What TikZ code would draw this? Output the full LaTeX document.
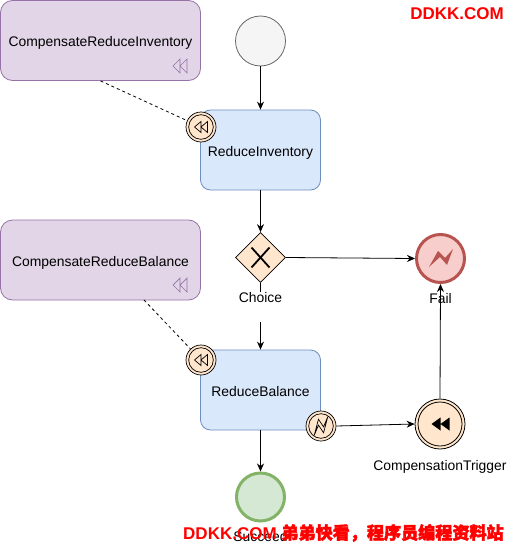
\documentclass[tikz,border=0pt]{standalone}
\usepackage{fontspec}
\setmainfont{Liberation Sans}
\newfontfamily\cjk{Noto Sans CJK SC}[FakeBold=2.5]
\usetikzlibrary{arrows.meta,calc,shapes.geometric}
\definecolor{taskfill}{HTML}{DAE8FC}
\definecolor{taskdraw}{HTML}{6C8EBF}
\definecolor{purfill}{HTML}{E1D5E7}
\definecolor{purdraw}{HTML}{9673A6}
\definecolor{peach}{HTML}{FFE6CC}
\definecolor{failfill}{HTML}{F8CECC}
\definecolor{faildraw}{HTML}{B85450}
\definecolor{okfill}{HTML}{D5E8D4}
\definecolor{okdraw}{HTML}{82B366}
\definecolor{startfill}{HTML}{F5F5F5}
\definecolor{startdraw}{HTML}{666666}
\definecolor{wm}{HTML}{FF0000}
\tikzset{
  task/.style={draw=taskdraw, fill=taskfill, rounded corners=10pt, minimum width=120pt, minimum height=80pt, inner sep=0pt, line width=0.8pt, text height=13pt, text depth=0pt},
  compbox/.style={draw=purdraw, fill=purfill, rounded corners=12pt, minimum width=200pt, minimum height=80pt, inner sep=0pt, line width=0.8pt, text height=13pt, text depth=0pt},
  bevent/.style={circle, draw=black, fill=peach, minimum size=30pt, inner sep=0pt, line width=0.7pt,
    path picture={\draw[line width=0.7pt] (path picture bounding box.center) circle (12.3pt);}},
  lbl/.style={inner sep=1pt},
  flow/.style={line width=0.8pt, -{Stealth[length=8pt,width=7pt]}},
  assoc/.style={line width=0.8pt, dash pattern=on 3pt off 3pt},
  rewind/.pic={\path[pic actions] (-1,0) -- (0,-1) -- (0,1) -- cycle (0,0) -- (1,-1) -- (1,1) -- cycle;},
  bolt/.pic={\path[pic actions] (-12,9) -- (-3,-7) -- (4,0) -- (12,-9) -- (6,7) -- (-1,-1) -- cycle;},
  boltv/.pic={\path[pic actions] (-8,11) -- (-3,-8) -- (3,1) -- (8,-11) -- (3,8) -- (-3,-1) -- cycle;}
}
\begin{document}
\begin{tikzpicture}[x=1pt,y=-1pt, font=\fontsize{13.9}{16}\selectfont]
\useasboundingbox (0,0) rectangle (508,543);
% compensation boxes
\node[compbox] (cri) at (100.5,40.5) {CompensateReduceInventory};
\pic[draw=purdraw, line width=0.7pt, xscale=7, yscale=7] at (180,66) {rewind};
\node[compbox] (crb) at (100.5,260) {CompensateReduceBalance};
\pic[draw=purdraw, line width=0.7pt, xscale=7, yscale=7] at (180,285) {rewind};
% start
\node[circle, draw=startdraw, fill=startfill, minimum size=50pt, inner sep=0pt, line width=0.8pt] (start) at (260.5,41) {};
% tasks
\node[task] (ri) at (260.5,150) {ReduceInventory};
\node[task] (rb) at (260.5,390) {ReduceBalance};
% gateway
\node[diamond, draw=black, fill=peach, minimum width=50pt, minimum height=50pt, inner sep=0pt, line width=0.8pt] (gw) at (260.5,257.5) {};
\draw[line width=1.8pt] ($(gw.center)+(-9,-10)$) -- ($(gw.center)+(9,10)$) ($(gw.center)+(9,-10)$) -- ($(gw.center)+(-9,10)$);
\node[lbl, anchor=north] (choice) at (260.5,291.5) {Choice};
\coordinate (brk) at (260.5,322);
% fail
\node[circle, draw=faildraw, fill=failfill, minimum size=48pt, inner sep=0pt, line width=3pt] (fail) at (440.5,258.5) {};
\pic[fill=faildraw] at (441,258) {bolt};
% trigger
\node[circle, draw=black, fill=peach, minimum size=50pt, inner sep=0pt, line width=0.8pt,
  path picture={\draw[line width=0.8pt] (path picture bounding box.center) circle (22pt);}] (trig) at (440,424) {};
\pic[fill=black, xscale=9, yscale=6.5] at (440.5,424) {rewind};
% succeed
\node[circle, draw=okdraw, fill=okfill, minimum size=48pt, inner sep=0pt, line width=3pt] (succ) at (260.5,497) {};
% boundary events
\node[bevent] (b1) at (201,127) {};
\pic[draw=black, line width=0.7pt, xscale=6.5, yscale=5.5] at (201,127) {rewind};
\node[bevent] (b2) at (201,360) {};
\pic[draw=black, line width=0.7pt, xscale=6.5, yscale=5.5] at (201,360) {rewind};
\node[bevent] (b3) at (321,426) {};
\pic[draw=black, line width=0.7pt, scale=0.85] at (321,426) {boltv};
% associations
\coordinate (a2) at (144,300);
\draw[assoc] (cri.south) -- (b1);
\draw[assoc] (a2) -- (b2);
% flows
\draw[flow] (start.south) -- (ri.north);
\draw[flow] (ri.south) -- (gw.north);
\draw[flow] (gw.east) -- (fail.west);
\draw[line width=0.8pt] (gw.south) -- (choice.north);
\draw[flow] (brk) -- (rb.north);
\draw[flow] (b3.east) -- (trig.west);
\draw[flow] (trig.north) -- (fail.south);
\draw[flow] (rb.south) -- (succ.north);
% labels
\node[lbl] (faillbl) at (440.5,298.5) {Fail};
\node[lbl] (triglbl) at (440,467) {CompensationTrigger};
\node[lbl] (succlbl) at (260.5,537) {Succeed};
% watermarks
\node[anchor=east, inner sep=0pt, text=wm, font=\fontsize{17}{20}\selectfont\bfseries] (wm1) at (504,14) {DDKK.COM};
\node[anchor=west, inner sep=0pt, text=wm, font=\fontsize{17}{20}\selectfont\bfseries] (wm2) at (183,533) {DDKK.COM {\cjk\fontsize{17.1}{20}\selectfont 弟弟快看，程序员编程资料站}};
\end{tikzpicture}
\end{document}
